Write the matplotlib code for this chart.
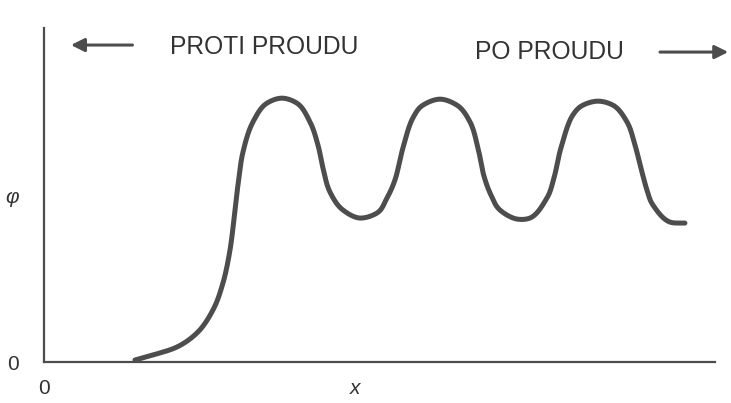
import numpy as np
import matplotlib.pyplot as plt

# curve (axis units: x 0..10, y 0..10)
curve_x = [1.356, 1.624, 1.982, 2.280, 2.519, 2.668, 2.772, 2.847, 2.891, 2.966,
           3.115, 3.323, 3.547, 3.770, 3.964, 4.083, 4.158, 4.262, 4.456, 4.709,
           4.963, 5.112, 5.231, 5.350, 5.499, 5.648, 5.902, 6.155, 6.349, 6.468,
           6.557, 6.662, 6.796, 7.049, 7.243, 7.496, 7.601, 7.705, 7.884, 8.033,
           8.256, 8.480, 8.689, 8.808, 8.912, 8.987, 9.076, 9.329, 9.553]
curve_y = [0.06, 0.21, 0.45, 0.87, 1.56, 2.37, 3.35, 4.55, 5.30, 6.29,
           7.19, 7.75, 7.90, 7.75, 7.19, 6.50, 5.81, 5.09, 4.55, 4.31,
           4.46, 4.91, 5.45, 6.41, 7.31, 7.69, 7.87, 7.69, 7.19, 6.41,
           5.57, 5.00, 4.55, 4.28, 4.31, 4.91, 5.51, 6.41, 7.40, 7.69,
           7.81, 7.69, 7.19, 6.50, 5.69, 5.15, 4.70, 4.19, 4.16]

x_ticks = [0, 4.63]
x_labels = ["0", "x"]
y_ticks = [0, 5.0]
y_labels = ["0", "φ"]

INK = "#4d4d4d"
TEXT = "#333333"


def smooth(xs, ys, n=20):
    # centripetal Catmull-Rom through the read points, just to draw the line round
    p = np.column_stack([xs, ys])
    p = np.vstack([2 * p[0] - p[1], p, 2 * p[-1] - p[-2]])
    out = []
    for i in range(1, len(p) - 2):
        p0, p1, p2, p3 = p[i - 1], p[i], p[i + 1], p[i + 2]
        t0 = 0.0
        t1 = t0 + np.linalg.norm(p1 - p0) ** 0.5
        t2 = t1 + np.linalg.norm(p2 - p1) ** 0.5
        t3 = t2 + np.linalg.norm(p3 - p2) ** 0.5
        t = np.linspace(t1, t2, n, endpoint=False)[:, None]
        a1 = (t1 - t) / (t1 - t0) * p0 + (t - t0) / (t1 - t0) * p1
        a2 = (t2 - t) / (t2 - t1) * p1 + (t - t1) / (t2 - t1) * p2
        a3 = (t3 - t) / (t3 - t2) * p2 + (t - t2) / (t3 - t2) * p3
        b1 = (t2 - t) / (t2 - t0) * a1 + (t - t0) / (t2 - t0) * a2
        b2 = (t3 - t) / (t3 - t1) * a2 + (t - t1) / (t3 - t1) * a3
        out.append((t2 - t) / (t2 - t1) * b1 + (t - t1) / (t2 - t1) * b2)
    out.append(p[-2][None, :])
    out = np.vstack(out)
    return out[:, 0], out[:, 1]


plt.rcParams["font.family"] = ["Liberation Sans", "DejaVu Sans"]

fig = plt.figure(figsize=(7.31, 4.03), dpi=100)
ax = fig.add_axes([0.0602, 0.1017, 0.9178, 0.8288])

sx, sy = smooth(curve_x, curve_y)
ax.plot(sx, sy, color=INK, lw=3.6, solid_capstyle="round", solid_joinstyle="round")

ax.set_xlim(0, 10)
ax.set_ylim(0, 10)
for side in ["top", "right"]:
    ax.spines[side].set_visible(False)
for side in ["left", "bottom"]:
    ax.spines[side].set_color(INK)
    ax.spines[side].set_linewidth(1.6)

ax.set_xticks(x_ticks)
ax.set_xticklabels(x_labels)
ax.set_yticks(y_ticks)
ax.set_yticklabels(y_labels)
ax.tick_params(length=0, labelsize=15, colors=TEXT)
ax.tick_params(axis="x", pad=12)
ax.tick_params(axis="y", pad=18)
ax.get_xticklabels()[1].set_style("italic")
ax.get_yticklabels()[1].set_style("italic")

# direction labels with arrows
ax.text(1.88, 9.43, "PROTI PROUDU", fontsize=17.7, color=TEXT, va="center", ha="left")
ax.text(6.42, 9.28, "PO PROUDU", fontsize=17.7, color=TEXT, va="center", ha="left")
ax.annotate("", xy=(0.36, 9.49), xytext=(1.36, 9.49),
            arrowprops=dict(arrowstyle="-|>", color=INK, lw=2.2, mutation_scale=20),
            annotation_clip=False)
ax.annotate("", xy=(10.24, 9.28), xytext=(9.14, 9.28),
            arrowprops=dict(arrowstyle="-|>", color=INK, lw=2.2, mutation_scale=20),
            annotation_clip=False)

fig.savefig("out.png", dpi=100)
